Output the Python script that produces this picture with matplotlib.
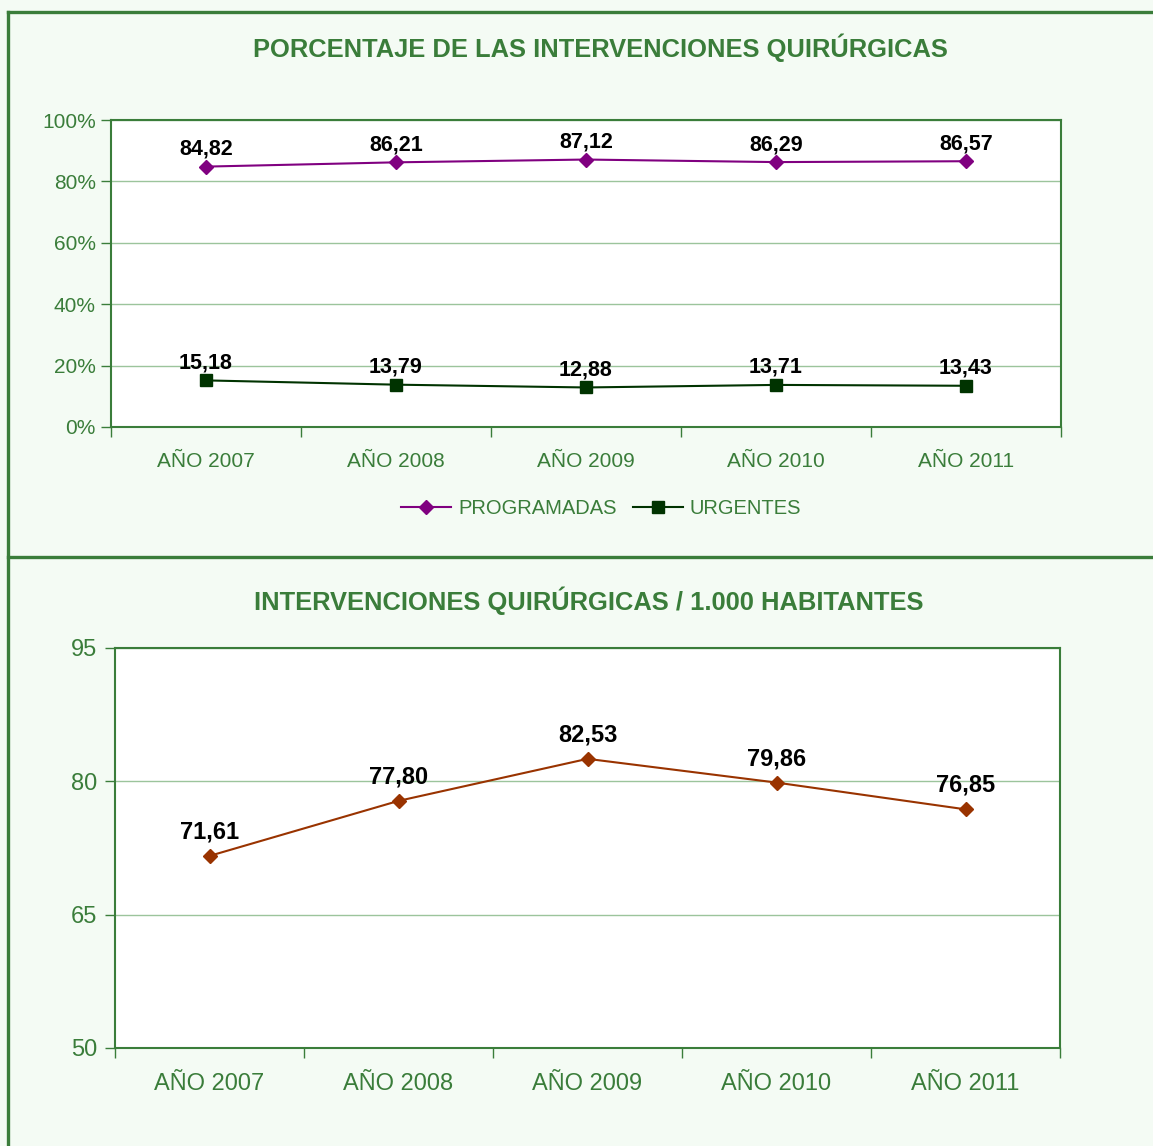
import matplotlib
matplotlib.use("Agg")
from matplotlib import pyplot as plt
from matplotlib.lines import Line2D

plt.rcParams['font.family'] = ['Liberation Sans', 'DejaVu Sans']

years = ["AÑO 2007", "AÑO 2008", "AÑO 2009", "AÑO 2010", "AÑO 2011"]
programadas = [84.82, 86.21, 87.12, 86.29, 86.57]
urgentes = [15.18, 13.79, 12.88, 13.71, 13.43]
por_mil = [71.61, 77.80, 82.53, 79.86, 76.85]

green = "#3a7d3a"
grid_c = "#9cc49c"
bg = "#f4fbf4"

def fmt(v):
    return f"{v:.2f}".replace(".", ",")

def style_axes(ax, ticks, labels, fs, ypad):
    x = range(len(years))
    ax.set_xlim(-0.5, len(years) - 0.5)
    ax.set_xticks([i - 0.5 for i in range(len(years) + 1)])
    ax.set_xticklabels([])
    ax.set_xticks(list(x), minor=True)
    ax.set_xticklabels(years, minor=True, fontsize=fs, color=green)
    ax.tick_params(axis='x', which='major', length=7, color=green, width=1)
    ax.tick_params(axis='x', which='minor', length=0, pad=18)
    ax.set_yticks(ticks)
    ax.set_yticklabels(labels, fontsize=fs, color=green)
    ax.tick_params(axis='y', length=7, color=green, width=1, pad=ypad)
    ax.yaxis.grid(True, color=grid_c, linewidth=1)
    ax.set_axisbelow(True)
    for s in ax.spines.values():
        s.set_color(green)
        s.set_linewidth(1.5)

fig = plt.figure(figsize=(11.53, 11.46), dpi=100, facecolor=bg)

# marcos
fig.add_artist(Line2D([8/1153, 1], [1 - 12/1146] * 2, color=green, lw=2.4))
fig.add_artist(Line2D([8/1153, 8/1153], [0, 1 - 12/1146], color=green, lw=2.4))
fig.add_artist(Line2D([8/1153, 1], [1 - 557/1146] * 2, color=green, lw=2.4))

# grafico 1
ax1 = fig.add_axes([111/1153, 1 - 427/1146, 950/1153, 307/1146])
x = list(range(len(years)))
ax1.plot(x, programadas, color="#800080", marker="D", markersize=7, lw=1.5, label="PROGRAMADAS")
ax1.plot(x, urgentes, color="#003300", marker="s", markersize=8, lw=1.5, label="URGENTES")
ax1.set_ylim(0, 100)
style_axes(ax1, [0, 20, 40, 60, 80, 100], ["0%", "20%", "40%", "60%", "80%", "100%"], 15, 4)
for xi, v in zip(x, programadas):
    ax1.annotate(fmt(v), (xi, v), xytext=(0, 5), textcoords="offset points",
                 ha="center", va="bottom", fontsize=15.5, fontweight="bold")
for xi, v in zip(x, urgentes):
    ax1.annotate(fmt(v), (xi, v), xytext=(0, 5), textcoords="offset points",
                 ha="center", va="bottom", fontsize=15.5, fontweight="bold")
fig.text(600/1153, 1 - 48/1146, "PORCENTAJE DE LAS INTERVENCIONES QUIRÚRGICAS",
         ha="center", va="center", fontsize=18.4, fontweight="bold", color=green)
leg = fig.legend(handles=ax1.get_lines(), loc="center", bbox_to_anchor=(601/1153, 1 - 509/1146),
                 ncol=2, frameon=False, fontsize=14.5, handlelength=2.5, columnspacing=0.8,
                 handletextpad=0.35)
for t in leg.get_texts():
    t.set_color(green)

# grafico 2
ax2 = fig.add_axes([115/1153, 1 - 1048/1146, 945/1153, 400/1146])
ax2.plot(x, por_mil, color="#993300", marker="D", markersize=7, lw=1.5)
ax2.set_ylim(50, 95)
style_axes(ax2, [50, 65, 80, 95], ["50", "65", "80", "95"], 17, 6)
for xi, v in zip(x, por_mil):
    ax2.annotate(fmt(v), (xi, v), xytext=(0, 9), textcoords="offset points",
                 ha="center", va="bottom", fontsize=17, fontweight="bold")
fig.text(589/1153, 1 - 601/1146, "INTERVENCIONES QUIRÚRGICAS / 1.000 HABITANTES",
         ha="center", va="center", fontsize=18.4, fontweight="bold", color=green)

fig.savefig("out.png", dpi=100, facecolor=bg)
